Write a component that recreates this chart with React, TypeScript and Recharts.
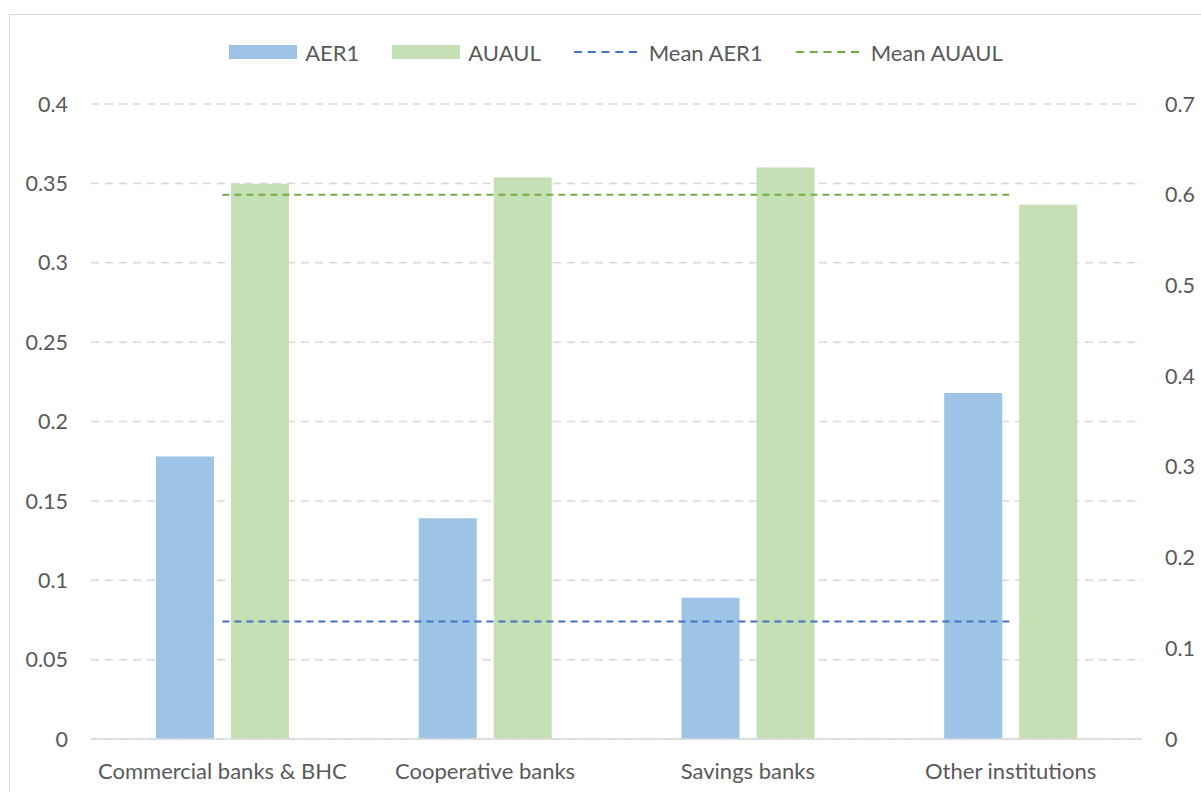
import {
  ComposedChart,
  Bar,
  Line,
  XAxis,
  YAxis,
  CartesianGrid,
  Legend,
} from "recharts";

const categories = ["Commercial banks & BHC", "Cooperative banks", "Savings banks", "Other institutions"];
const aer1 = [0.178, 0.139, 0.089, 0.218];
const auaul = [0.612, 0.619, 0.63, 0.589];
const meanAer1 = 0.074;
const meanAuaul = 0.6;
const leftTicks = [0, 0.05, 0.1, 0.15, 0.2, 0.25, 0.3, 0.35, 0.4];
const rightTicks = [0, 0.1, 0.2, 0.3, 0.4, 0.5, 0.6, 0.7];

const data = categories.map((name, i) => ({
  name,
  aer1: aer1[i],
  auaul: auaul[i],
  meanAer1,
  meanAuaul,
}));

const FONT = "Lato, 'Open Sans', sans-serif";
const TEXT = "#595959";
const tick = { fontSize: 21.5, fill: TEXT, fontFamily: FONT };

const legendItems = [
  { label: "AER1", color: "#9DC3E6", kind: "bar" },
  { label: "AUAUL", color: "#C5E0B4", kind: "bar" },
  { label: "Mean AER1", color: "#4472C4", kind: "line" },
  { label: "Mean AUAUL", color: "#70AD47", kind: "line" },
];

function ChartLegend() {
  return (
    <div
      style={{
        display: "flex",
        justifyContent: "center",
        alignItems: "center",
        height: 34,
        paddingLeft: 20,
        fontFamily: FONT,
        fontSize: 22,
        color: TEXT,
      }}
    >
      {legendItems.map((it) => (
        <div key={it.label} style={{ display: "flex", alignItems: "center", margin: "0 16.5px" }}>
          {it.kind === "bar" ? (
            <div style={{ width: 68, height: 14, background: it.color, marginRight: 8 }} />
          ) : (
            <svg width={63} height={14} style={{ marginRight: 12 }}>
              <line x1={0} x2={63} y1={7} y2={7} stroke={it.color} strokeWidth={2} strokeDasharray="8 5.75" />
            </svg>
          )}
          <span>{it.label}</span>
        </div>
      ))}
    </div>
  );
}

export default function App() {
  return (
    <div
      style={{
        position: "absolute",
        left: 9,
        top: 14,
        width: 1200,
        height: 800,
        border: "1px solid #D9D9D9",
        background: "#fff",
      }}
    >
      <ComposedChart
        width={1192}
        height={780}
        data={data}
        margin={{ top: 55, right: 0, left: 0, bottom: 0 }}
        barSize={58}
        barGap={17}
      >
        <CartesianGrid
          yAxisId="left"
          vertical={false}
          stroke="#D9D9D9"
          strokeWidth={1.5}
          strokeDasharray="8 6"
        />
        <XAxis
          dataKey="name"
          height={56}
          tickLine={false}
          axisLine={{ stroke: "#D9D9D9", strokeWidth: 1.5 }}
          tickMargin={18}
          tick={{ ...tick, fontSize: 22 }}
        />
        <YAxis
          yAxisId="left"
          width={81}
          domain={[0, 0.4]}
          ticks={leftTicks}
          tickLine={false}
          axisLine={false}
          tickMargin={17}
          tick={tick}
        />
        <YAxis
          yAxisId="right"
          orientation="right"
          width={60}
          domain={[0, 0.7]}
          ticks={rightTicks}
          tickLine={false}
          axisLine={false}
          tickMargin={17}
          tick={{ ...tick, textAnchor: "start" }}
        />
        <Legend verticalAlign="top" wrapperStyle={{ top: 20 }} content={() => <ChartLegend />} />
        <Bar yAxisId="left" dataKey="aer1" name="AER1" fill="#9DC3E6" isAnimationActive={false} />
        <Bar yAxisId="right" dataKey="auaul" name="AUAUL" fill="#C5E0B4" isAnimationActive={false} />
        <Line
          yAxisId="left"
          dataKey="meanAer1"
          name="Mean AER1"
          stroke="#4472C4"
          strokeWidth={2}
          strokeDasharray="7 5"
          dot={false}
          activeDot={false}
          isAnimationActive={false}
        />
        <Line
          yAxisId="right"
          dataKey="meanAuaul"
          name="Mean AUAUL"
          stroke="#70AD47"
          strokeWidth={2}
          strokeDasharray="7 5"
          dot={false}
          activeDot={false}
          isAnimationActive={false}
        />
      </ComposedChart>
    </div>
  );
}
